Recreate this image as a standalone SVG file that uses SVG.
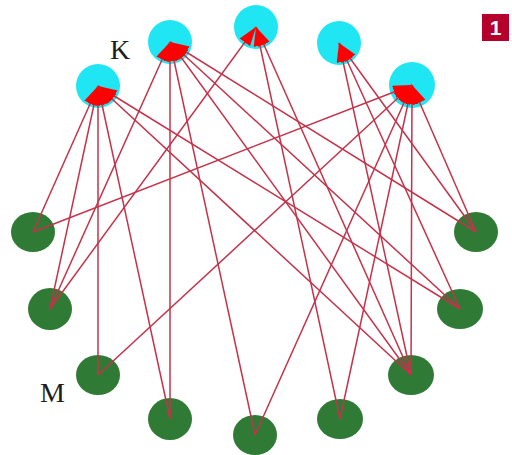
<svg xmlns="http://www.w3.org/2000/svg" width="512" height="455" viewBox="0 0 512 455">
  <style>
    .k { fill: #1fe6f2; }
    .m { fill: #2f7b35; }
    .e { stroke: #c3334a; stroke-width: 1.5; fill: none; marker-end: url(#arr); }
    .lbl { font-family: "Liberation Serif", "Times New Roman", serif; font-size: 28px; fill: #1e1e1e; }
  </style>
  <defs>
    <marker id="arr" viewBox="0 0 19 13" refX="19" refY="6.5" markerWidth="19" markerHeight="13" markerUnits="userSpaceOnUse" orient="auto">
      <path d="M0,0 L19,6.5 L0,13 z" fill="#ff0000"/>
    </marker>
  </defs>
  <rect width="512" height="455" fill="#ffffff"/>

  <g id="K1"><circle class="k" cx="98" cy="86" r="22"/></g>
  <g id="K2"><circle class="k" cx="170" cy="42" r="22"/></g>
  <g id="K3"><circle class="k" cx="256" cy="27" r="22"/></g>
  <g id="K4"><circle class="k" cx="339" cy="43" r="22"/></g>
  <g id="K5"><circle class="k" cx="412" cy="85" r="23"/></g>

  <g id="M1"><ellipse class="m" cx="33" cy="232" rx="22" ry="20"/></g>
  <g id="M2"><ellipse class="m" cx="50" cy="309" rx="22" ry="21"/></g>
  <g id="M3"><ellipse class="m" cx="98" cy="375" rx="22" ry="20"/></g>
  <g id="M4"><ellipse class="m" cx="170" cy="419" rx="22" ry="21"/></g>
  <g id="M5"><ellipse class="m" cx="255" cy="435" rx="22" ry="20"/></g>
  <g id="M6"><ellipse class="m" cx="340" cy="419" rx="23" ry="20"/></g>
  <g id="M7"><ellipse class="m" cx="411" cy="375" rx="23" ry="20"/></g>
  <g id="M8"><ellipse class="m" cx="460" cy="309" rx="23" ry="20"/></g>
  <g id="M9"><ellipse class="m" cx="476" cy="232" rx="22" ry="20"/></g>

  <g id="connectors">
    <!-- to K1 -->
    <line class="e" x1="33" y1="232" x2="98" y2="86"/>
    <line class="e" x1="50" y1="309" x2="98" y2="86"/>
    <line class="e" x1="98" y1="375" x2="98" y2="86"/>
    <line class="e" x1="170" y1="419" x2="98" y2="86"/>
    <line class="e" x1="411" y1="375" x2="98" y2="86"/>
    <line class="e" x1="460" y1="309" x2="98" y2="86"/>
    <!-- to K2 -->
    <line class="e" x1="50" y1="309" x2="170" y2="42"/>
    <line class="e" x1="170" y1="419" x2="170" y2="42"/>
    <line class="e" x1="255" y1="435" x2="170" y2="42"/>
    <line class="e" x1="411" y1="375" x2="170" y2="42"/>
    <line class="e" x1="460" y1="309" x2="170" y2="42"/>
    <line class="e" x1="476" y1="232" x2="170" y2="42"/>
    <!-- to K3 -->
    <line class="e" x1="50" y1="309" x2="256" y2="27"/>
    <line class="e" x1="340" y1="419" x2="256" y2="27"/>
    <line class="e" x1="411" y1="375" x2="256" y2="27"/>
    <!-- to K4 -->
    <line class="e" x1="411" y1="375" x2="339" y2="43"/>
    <line class="e" x1="460" y1="309" x2="339" y2="43"/>
    <line class="e" x1="476" y1="232" x2="339" y2="43"/>
    <!-- to K5 -->
    <line class="e" x1="33" y1="232" x2="412" y2="85"/>
    <line class="e" x1="98" y1="375" x2="412" y2="85"/>
    <line class="e" x1="255" y1="435" x2="412" y2="85"/>
    <line class="e" x1="340" y1="419" x2="412" y2="85"/>
    <line class="e" x1="411" y1="375" x2="412" y2="85"/>
    <line class="e" x1="476" y1="232" x2="412" y2="85"/>
  </g>

  <text class="lbl" x="110" y="59">K</text>
  <text class="lbl" x="40" y="402">M</text>

  <g id="badge">
    <rect x="482" y="14" width="27" height="27" fill="#b4002a"/>
    <text x="495.5" y="35" text-anchor="middle" font-family="Liberation Sans, Arial, sans-serif" font-size="21" font-weight="bold" fill="#ffffff">1</text>
  </g>
</svg>
